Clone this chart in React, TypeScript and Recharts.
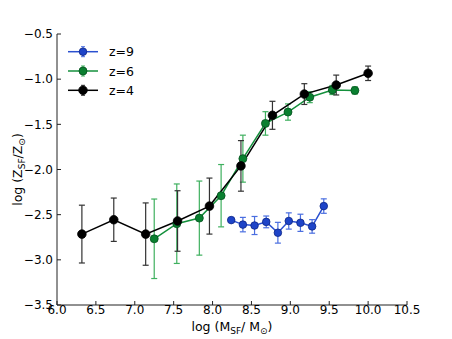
import React from "react";
import {
  ComposedChart,
  Line,
  XAxis,
  YAxis,
  ErrorBar,
  Legend,
  Label
} from "recharts";

// log stellar mass of star-forming gas, per redshift
const z4Mass = [6.32, 6.73, 7.14, 7.55, 7.96, 8.365, 8.77, 9.18, 9.59, 10.0];
const z4Metal = [-2.715, -2.556, -2.715, -2.57, -2.405, -1.96, -1.4, -1.165, -1.065, -0.935];
const z4Err = [0.32, 0.24, 0.345, 0.335, 0.31, 0.28, 0.155, 0.115, 0.11, 0.08];

const z6Mass = [7.25, 7.54, 7.83, 8.11, 8.39, 8.68, 8.97, 9.25, 9.54, 9.83];
const z6Metal = [-2.767, -2.6, -2.538, -2.29, -1.88, -1.49, -1.364, -1.2, -1.12, -1.125];
const z6Err = [0.44, 0.44, 0.41, 0.345, 0.26, 0.13, 0.09, 0.06, 0.05, 0.04];

const z9Mass = [8.24, 8.39, 8.54, 8.69, 8.84, 8.98, 9.13, 9.28, 9.43];
const z9Metal = [-2.56, -2.61, -2.62, -2.58, -2.7, -2.57, -2.59, -2.63, -2.405];
const z9Err = [0, 0.08, 0.1, 0.065, 0.115, 0.09, 0.095, 0.075, 0.08];

const xTicks = [6.0, 6.5, 7.0, 7.5, 8.0, 8.5, 9.0, 9.5, 10.0, 10.5];
const yTicks = [-3.5, -3.0, -2.5, -2.0, -1.5, -1.0, -0.5];

const FONT = "DejaVu Sans";

const toRows = (xs: number[], ys: number[], es: number[]) =>
  xs.map((x, i) => ({ x, y: ys[i], e: es[i] }));

const series = [
  {
    name: "z=9",
    data: toRows(z9Mass, z9Metal, z9Err),
    line: "#2a50d0",
    fill: "#1e44c8",
    edge: "#0b2585",
    bar: "#4a6ee0",
    r: 3.8
  },
  {
    name: "z=6",
    data: toRows(z6Mass, z6Metal, z6Err),
    line: "#14903c",
    fill: "#0a8030",
    edge: "#05501e",
    bar: "#3fb05f",
    r: 4
  },
  {
    name: "z=4",
    data: toRows(z4Mass, z4Metal, z4Err),
    line: "#000000",
    fill: "#000000",
    edge: "#000000",
    bar: "#333333",
    r: 4.3
  }
];

const fmt = (v: number) => v.toFixed(1).replace("-", "\u2212");

function LegendBox(props: any) {
  const items = [...(props.payload ?? [])].sort(
    (a: any, b: any) =>
      series.findIndex((s) => s.name === a.value) -
      series.findIndex((s) => s.name === b.value)
  );
  return (
    <svg width={150} height={100} style={{ fontFamily: FONT }}>
      {items.map((item: any, i: number) => {
        const s = series.find((d) => d.name === item.value)!;
        const y = 51.7 + i * 19.3;
        return (
          <g key={item.value}>
            <line x1={68} x2={98} y1={y} y2={y} stroke={s.line} strokeWidth={1.5} />
            <line x1={83} x2={83} y1={y - 5} y2={y + 5} stroke={s.bar} strokeWidth={1.2} />
            <line x1={81} x2={85} y1={y - 5} y2={y - 5} stroke={s.bar} strokeWidth={1} />
            <line x1={81} x2={85} y1={y + 5} y2={y + 5} stroke={s.bar} strokeWidth={1} />
            <circle cx={83} cy={y} r={s.r} fill={s.fill} stroke={s.edge} strokeWidth={0.8} />
            <text x={109} y={y + 4.5} fontSize={12.5} fill="#000">
              {item.value}
            </text>
          </g>
        );
      })}
    </svg>
  );
}

export default function App() {
  return (
    <div style={{ position: "absolute", left: 0, top: 0, fontFamily: FONT, background: "#fff" }}>
      <ComposedChart
        width={452}
        height={339}
        margin={{ top: 34, right: 45, bottom: 0, left: 0 }}
      >
        <XAxis
          dataKey="x"
          type="number"
          domain={[6, 10.5]}
          ticks={xTicks}
          tickFormatter={fmt}
          height={34}
          tickSize={-4}
          tickMargin={4}
          stroke="#222"
          tick={{ fill: "#000", fontSize: 12 }}
          allowDataOverflow
        >
          <Label
            content={({ viewBox }: any) => {
              const cx = viewBox.x + viewBox.width / 2;
              return (
                <text x={cx} y={331} textAnchor="middle" fontSize={12.5} fill="#000">
                  log (M
                  <tspan fontSize={9} dy={3}>SF</tspan>
                  <tspan dy={-3}>/ M</tspan>
                  <tspan fontSize={9} dy={3}>{"\u2299"}</tspan>
                  <tspan dy={-3}>)</tspan>
                </text>
              );
            }}
          />
        </XAxis>
        <XAxis
          xAxisId="top"
          orientation="top"
          dataKey="x"
          type="number"
          domain={[6, 10.5]}
          ticks={xTicks}
          tickFormatter={() => ""}
          height={0}
          tickSize={-4}
          stroke="#222"
        />
        <YAxis
          type="number"
          domain={[-3.5, -0.5]}
          ticks={yTicks}
          tickFormatter={fmt}
          width={57}
          tickSize={-4}
          tickMargin={8}
          stroke="#222"
          tick={{ fill: "#000", fontSize: 12 }}
          allowDataOverflow
        >
          <Label
            content={({ viewBox }: any) => {
              const cy = viewBox.y + viewBox.height / 2;
              return (
                <text
                  x={22}
                  y={cy}
                  transform={`rotate(-90, 22, ${cy})`}
                  textAnchor="middle"
                  fontSize={12.5}
                  fill="#000"
                >
                  log (Z
                  <tspan fontSize={9} dy={3}>SF</tspan>
                  <tspan dy={-3}>/Z</tspan>
                  <tspan fontSize={9} dy={3}>{"\u2299"}</tspan>
                  <tspan dy={-3}>)</tspan>
                </text>
              );
            }}
          />
        </YAxis>
        <YAxis
          yAxisId="right"
          orientation="right"
          type="number"
          domain={[-3.5, -0.5]}
          ticks={yTicks}
          tickFormatter={() => ""}
          width={0}
          tickSize={-4}
          stroke="#222"
        />
        <Legend
          layout="horizontal"
          verticalAlign="middle"
          align="center"
          wrapperStyle={{ left: 0, top: 0, width: 150, height: 100 }}
          content={LegendBox}
        />
        {series.map((s) => (
          <Line
            key={s.name}
            name={s.name}
            data={s.data}
            dataKey="y"
            stroke={s.line}
            strokeWidth={1.5}
            dot={{ r: s.r, fill: s.fill, stroke: s.edge, strokeWidth: 0.8 }}
            activeDot={false}
            isAnimationActive={false}
          >
            <ErrorBar dataKey="e" direction="y" width={3} stroke={s.bar} strokeWidth={1.2} />
          </Line>
        ))}
      </ComposedChart>
    </div>
  );
}
